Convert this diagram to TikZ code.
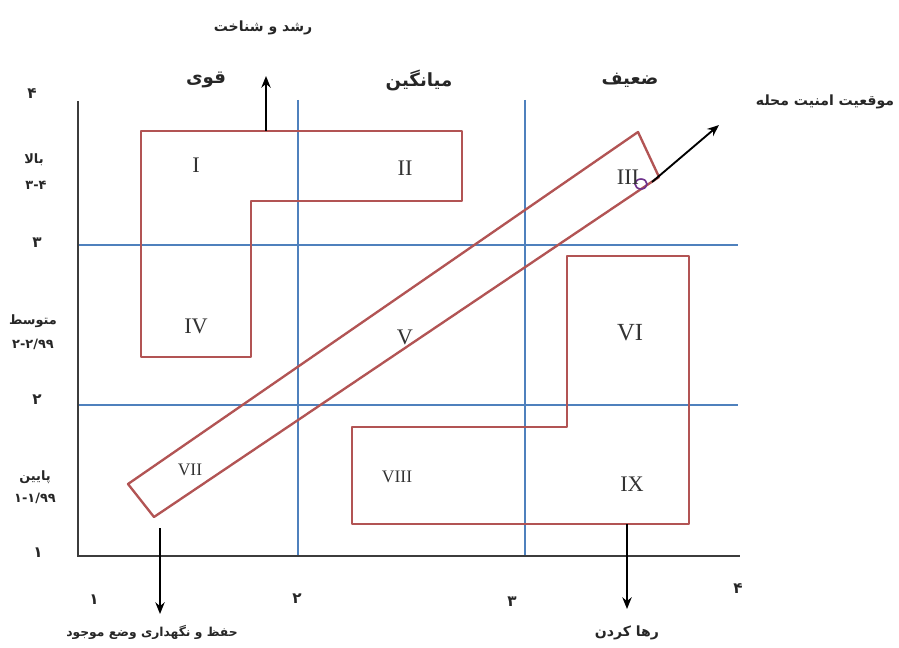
\documentclass[tikz,border=0pt]{standalone}
\usepackage{fontspec}
\setmainfont{Liberation Serif}
\newfontfamily\arabicfont[Script=Arabic]{DejaVu Sans}
\TeXXeTstate=1
\usetikzlibrary{arrows.meta}
\definecolor{gridblue}{RGB}{79,129,189}
\definecolor{boxred}{RGB}{178,84,84}
\definecolor{axisgray}{RGB}{60,60,60}
\definecolor{markviolet}{RGB}{110,50,140}
\begin{document}
\begin{tikzpicture}[x=0.03cm,y=-0.03cm,
  gridline/.style={draw=gridblue, line width=1.4pt},
  region/.style={draw=boxred, line width=2pt, line join=round},
  axisline/.style={draw=axisgray, line width=2.4pt},
  arr/.style={draw=black, line width=1.6pt, -{Stealth[length=10pt,width=8pt]}},
  roman/.style={font=\fontsize{19}{19}\selectfont, text=black!80, inner sep=0pt},
  head/.style={font=\arabicfont\bfseries\fontsize{15.5}{17}\selectfont, text=black!85, inner sep=0pt},
  lab/.style={font=\arabicfont\bfseries\fontsize{12}{14}\selectfont, text=black!85, inner sep=0pt},
  ylab/.style={font=\arabicfont\bfseries\fontsize{11}{13}\selectfont, text=black!85, inner sep=0pt},
  tick/.style={font=\arabicfont\bfseries\fontsize{13}{15}\selectfont, text=black!85, inner sep=0pt}]
\useasboundingbox (0,0) rectangle (899,648);
% grid lines
\draw[gridline] (298,100) -- (298,556);
\draw[gridline] (525,100) -- (525,556);
\draw[gridline] (78,245) -- (738,245);
\draw[gridline] (78,405) -- (738,405);
% axes
\draw[axisline] (78,101) -- (78,556) -- (740,556);
% regions
\draw[region] (141,131) -- (462,131) -- (462,201) -- (251,201) -- (251,357) -- (141,357) -- cycle;
\draw[region] (567,256) -- (689,256) -- (689,524) -- (352,524) -- (352,427) -- (567,427) -- cycle;
\draw[region] (128,484) -- (638,132) -- (659,177) -- (154,517) -- cycle;
% marker
\draw[draw=markviolet, line width=1.4pt] (641,184) ellipse [x radius=6, y radius=5];
% roman numerals
\node[roman] (r1) at (196,165) {I};
\node[roman] (r2) at (405,168) {II};
\node[roman] (r3) at (628,177) {III};
\node[roman] (r4) at (196,326) {IV};
\node[roman] (r5) at (405,337) {V};
\node[roman, font=\fontsize{21}{21}\selectfont] (r6) at (630,333) {VI};
\node[roman, font=\fontsize{15}{15}\selectfont] (r7) at (190,470) {VII};
\node[roman, font=\fontsize{15}{15}\selectfont] (r8) at (397,477) {VIII};
\node[roman] (r9) at (632,484) {IX};
% column headers
\node[head] (hStrong) at (206,80) {\beginR قوی\endR};
\node[head] (hMid) at (419,80) {\beginR میانگین\endR};
\node[head] (hWeak) at (630,80) {\beginR ضعیف\endR};
% y labels
\node[tick] (y4) at (32,94) {۴};
\node[ylab] (yHigh) at (34,160) {\beginR بالا\endR};
\node[ylab] (yHighR) at (36,185) {۳-۴};
\node[tick] (y3) at (37,243) {۳};
\node[ylab] (yMid) at (33,321) {\beginR متوسط\endR};
\node[ylab] (yMidR) at (33,344) {۲-۲/۹۹};
\node[tick] (y2) at (37,400) {۲};
\node[ylab] (yLow) at (35,477) {\beginR پایین\endR};
\node[ylab] (yLowR) at (35,498) {۱-۱/۹۹};
\node[tick] (y1) at (38,553) {۱};
% x labels
\node[tick] (x1) at (94,600) {۱};
\node[tick] (x2) at (297,599) {۲};
\node[tick] (x3) at (512,602) {۳};
\node[tick] (x4) at (738,589) {۴};
% strategy labels and arrows
\node[lab] (growth) at (263,28) {\beginR رشد و شناخت\endR};
\coordinate (growthS) at (266,131);
\coordinate (growthT) at (266,76);
\draw[arr] (growthS) -- (growthT);
\node[lab] (security) at (825,102) {\beginR موقعیت امنیت محله\endR};
\coordinate (secS) at (652,182);
\coordinate (secT) at (719,125);
\draw[arr] (secS) -- (secT);
\node[lab, font=\arabicfont\bfseries\fontsize{10.5}{13}\selectfont] (keep) at (152,632) {\beginR حفظ و نگهداری وضع موجود\endR};
\coordinate (keepS) at (160,528);
\coordinate (keepT) at (160,614);
\draw[arr] (keepS) -- (keepT);
\node[lab] (release) at (627,633) {\beginR رها کردن\endR};
\coordinate (relS) at (627,524);
\coordinate (relT) at (627,609);
\draw[arr] (relS) -- (relT);
\end{tikzpicture}
\end{document}
